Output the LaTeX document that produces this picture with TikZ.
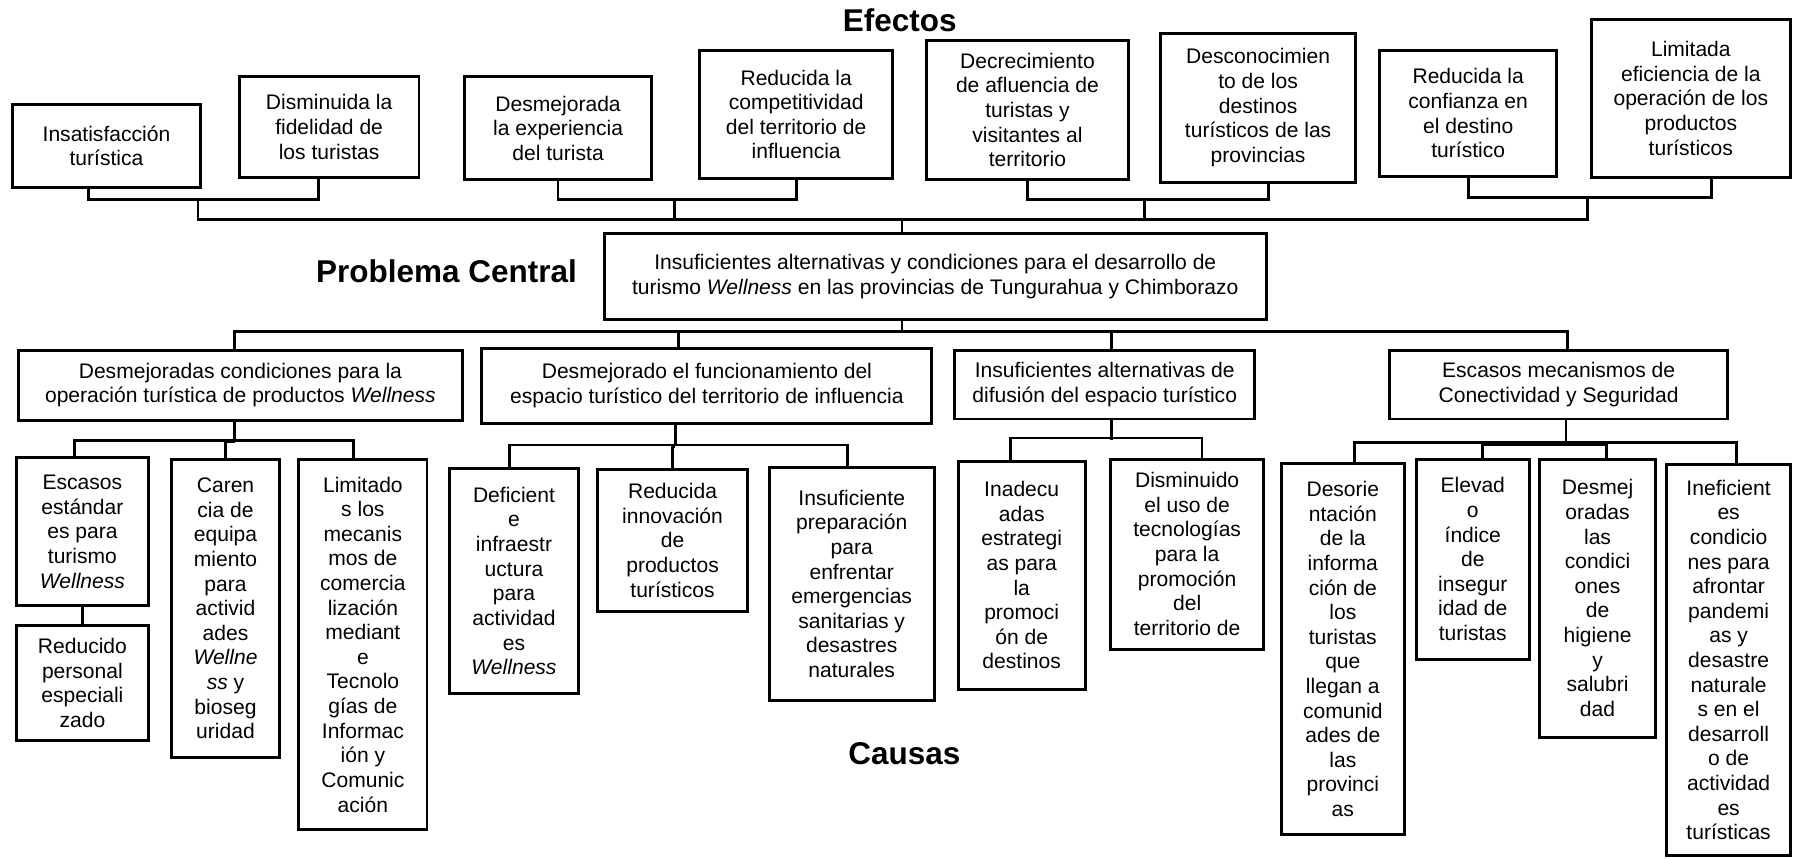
\documentclass[tikz,border=0pt]{standalone}
\usepackage{fontspec}
\setmainfont{Liberation Sans}
\usetikzlibrary{calc}

\tikzset{
  caja/.style={draw, line width=2.6pt, align=center, inner sep=0pt,
    font=\fontsize{18.4}{21.5}\selectfont},
  titulo/.style={font=\fontsize{27.5}{33}\selectfont\bfseries},
  linea/.style={line width=2.4pt}
}

\begin{document}
\begin{tikzpicture}[x=1pt, y=-1pt]
\useasboundingbox (0,0) rectangle (1568,750);

% efectos
\node[titulo] (efectos) at (786,18) {Efectos};
\node[caja, minimum width=164pt, minimum height=73pt] (e1) at (93,127.5) {Insatisfacción\\turística};
\node[caja, minimum width=157pt, minimum height=88pt] (e2) at (287.5,111) {Disminuida la\\fidelidad de\\los turistas};
\node[caja, minimum width=163pt, minimum height=90pt] (e3) at (487.5,112) {Desmejorada\\la experiencia\\del turista};
\node[caja, minimum width=169pt, minimum height=112pt] (e4) at (695.5,100) {Reducida la\\competitividad\\del territorio de\\influencia};
\node[caja, minimum width=177pt, minimum height=122pt] (e5) at (897.5,96) {Decrecimiento\\de afluencia de\\turistas y\\visitantes al\\territorio};
\node[caja, minimum width=170pt, minimum height=130pt] (e6) at (1099,94) {Desconocimien\\to de los\\destinos\\turísticos de las\\provincias};
\node[caja, minimum width=155pt, minimum height=110pt] (e7) at (1282.5,99) {Reducida la\\confianza en\\el destino\\turístico};
\node[caja, minimum width=174pt, minimum height=138pt] (e8) at (1477,86) {Limitada\\eficiencia de la\\operación de los\\productos\\turísticos};

% problema central
\node[titulo] (problema) at (390,237) {Problema Central};
\node[caja, minimum width=578pt, minimum height=75pt] (pc) at (817,241.5) {Insuficientes alternativas y condiciones para el desarrollo de\\turismo \textit{Wellness} en las provincias de Tungurahua y Chimborazo};

% causas
\node[caja, minimum width=388pt, minimum height=61pt] (c1) at (210,336.5) {Desmejoradas condiciones para la\\operación turística de productos \textit{Wellness}};
\node[caja, minimum width=393pt, minimum height=66pt] (c2) at (617.5,337) {Desmejorado el funcionamiento del\\espacio turístico del territorio de influencia};
\node[caja, minimum width=262pt, minimum height=60pt] (c3) at (965,336) {Insuficientes alternativas de\\difusión del espacio turístico};
\node[caja, minimum width=295pt, minimum height=60pt] (c4) at (1361.5,336) {Escasos mecanismos de\\Conectividad y Seguridad};

\node[caja, minimum width=116pt, minimum height=129pt] (c11) at (72,464.5) {Escasos\\estándar\\es para\\turismo\\\textit{Wellness}};
\node[caja, minimum width=116pt, minimum height=101pt] (c11b) at (72,596.5) {Reducido\\personal\\especiali\\zado};
\node[caja, minimum width=94pt, minimum height=261pt] (c12) at (197,531.5) {Caren\\cia de\\equipa\\miento\\para\\activid\\ades\\\textit{Wellne}\\\textit{ss} y\\bioseg\\uridad};
\node[caja, minimum width=112pt, minimum height=324pt] (c13) at (317,563) {Limitado\\s los\\mecanis\\mos de\\comercia\\lización\\mediant\\e\\Tecnolo\\gías de\\Informac\\ión y\\Comunic\\ación};

\node[caja, minimum width=112pt, minimum height=197pt] (c21) at (449,507.5) {Deficient\\e\\infraestr\\uctura\\para\\actividad\\es\\\textit{Wellness}};
\node[caja, minimum width=131pt, minimum height=124pt] (c22) at (587.5,472) {Reducida\\innovación\\de\\productos\\turísticos};
\node[caja, minimum width=144pt, minimum height=204pt] (c23) at (744,510) {Insuficiente\\preparación\\para\\enfrentar\\emergencias\\sanitarias y\\desastres\\naturales};

\node[caja, minimum width=111pt, minimum height=199pt] (c31) at (892.5,502.5) {Inadecu\\adas\\estrategi\\as para\\la\\promoci\\ón de\\destinos};
\node[caja, minimum width=134pt, minimum height=166pt] (c32) at (1037,484) {Disminuido\\el uso de\\tecnologías\\para la\\promoción\\del\\territorio de};

\node[caja, minimum width=108pt, minimum height=324pt] (c41) at (1173,567) {Desorie\\ntación\\de la\\informa\\ción de\\los\\turistas\\que\\llegan a\\comunid\\ades de\\las\\provinci\\as};
\node[caja, minimum width=99pt, minimum height=175pt] (c42) at (1286.5,488.5) {Elevad\\o\\índice\\de\\insegur\\idad de\\turistas};
\node[caja, minimum width=101pt, minimum height=243pt] (c43) at (1395.5,522.5) {Desmej\\oradas\\las\\condici\\ones\\de\\higiene\\y\\salubri\\dad};
\node[caja, minimum width=108pt, minimum height=341pt] (c44) at (1510,576.5) {Ineficient\\es\\condicio\\nes para\\afrontar\\pandemi\\as y\\desastre\\naturale\\s en el\\desarroll\\o de\\actividad\\es\\turísticas};

\node[titulo] (causas) at (790,658) {Causas};

% uniones de efectos
\coordinate (j1) at (173,174);
\coordinate (j2) at (589,174);
\coordinate (j3) at (1000,174);
\coordinate (j4) at (1387,172);
\coordinate (bus) at (788,192);
\draw[linea] ($(e1.south)+(-16,0)$) |- ($(e2.south)+(-9,18)$) -- ($(e2.south)+(-9,0)$);
\draw[linea] (e3.south) |- ($(e4.south)+(0,17)$) -- (e4.south);
\draw[linea] (e5.south) |- ($(e6.south)+(9,14)$) -- ($(e6.south)+(9,0)$);
\draw[linea] (e7.south) |- ($(e8.south)+(18,16)$) -- ($(e8.south)+(18,0)$);
\draw[linea] (j1) |- (j4 |- bus) -- (j4);
\draw[linea] (j2) -- (j2 |- bus);
\draw[linea] (j3) -- (j3 |- bus);
\draw[linea] (bus) -- (bus |- pc.north);

% uniones de causas
\coordinate (cbus) at (788,290);
\draw[linea] (cbus |- pc.south) -- (cbus);
\draw[linea] ($(c1.north)+(-5,0)$) |- ($(c4.north)+(7.5,-15)$) -- ($(c4.north)+(7.5,0)$);
\draw[linea] ($(c2.north)+(-25,0)$) |- (cbus);
\draw[linea] ($(c3.north)+(6,0)$) |- (cbus);

\coordinate (abus) at (205,386);
\draw[linea] (abus |- c1.south) -- (abus);
\draw[linea] ($(c11.north)+(-7,0)$) |- ($(c13.north)+(-8,-15)$) -- ($(c13.north)+(-8,0)$);
\draw[linea] (c12.north) |- (abus);
\draw[linea] (c11.south) -- (c11b.north);

\coordinate (bbus) at (590,390);
\draw[linea] (bbus |- c2.south) -- (bbus);
\draw[linea] ($(c21.north)+(-4,0)$) |- ($(c23.north)+(-4,-18)$) -- ($(c23.north)+(-4,0)$);
\draw[linea] (c22.north) |- (bbus);

\coordinate (kbus) at (971,384);
\draw[linea] (kbus |- c3.south) -- (kbus);
\draw[linea] ($(c31.north)+(-10,0)$) |- ($(c32.north)+(13,-17)$) -- ($(c32.north)+(13,0)$);

\coordinate (dbus) at (1368,388);
\draw[linea] (dbus |- c4.south) -- (dbus);
\draw[linea] ($(c41.north)+(10,0)$) |- ($(c44.north)+(7,-18)$) -- ($(c44.north)+(7,0)$);
\draw[linea] ($(c42.north)+(8.5,0)$) |- (dbus);
\draw[linea] ($(c43.north)+(7.5,0)$) |- (dbus);
\end{tikzpicture}
\end{document}
